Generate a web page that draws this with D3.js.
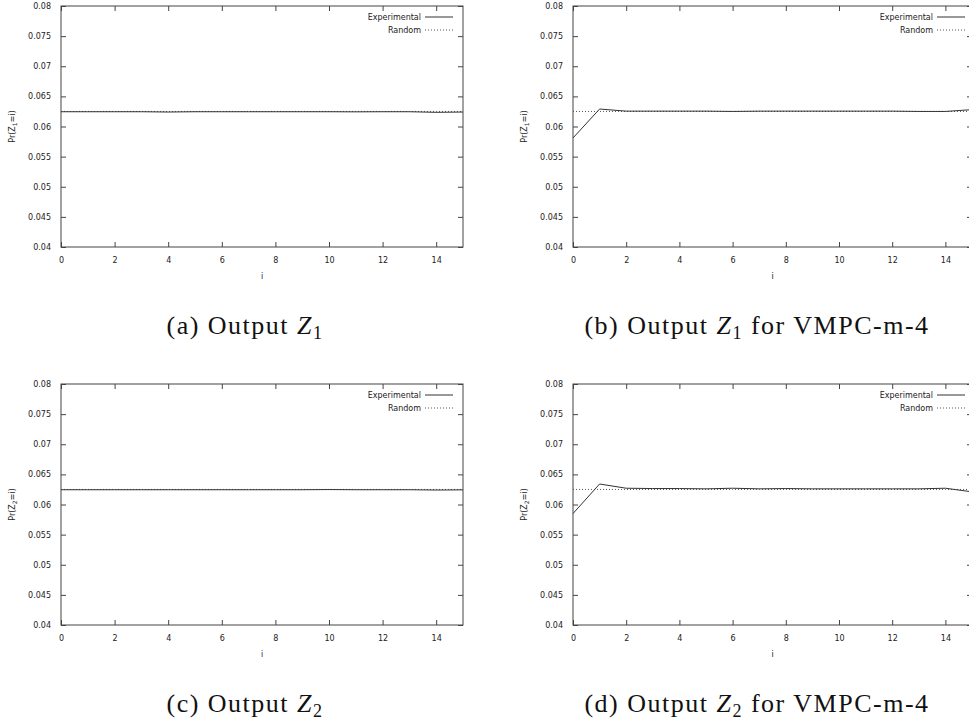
<!DOCTYPE html>
<html>
<head>
<meta charset="utf-8">
<script src="https://cdn.jsdelivr.net/npm/d3@7"></script>
<style>
  body { margin: 0; background: #fff; }
  svg { display: block; }
  .tick text { font-family: "DejaVu Sans", sans-serif; font-size: 8px; fill: #222; }
  .lab { font-family: "DejaVu Sans", sans-serif; font-size: 8px; fill: #222; }
  .cap { font-family: "Liberation Serif", serif; font-size: 26px; fill: #111; letter-spacing: 1.5px; }
</style>
</head>
<body>
<svg id="chart" width="969" height="723"></svg>
<script>
// index on the x axis
const iValues = [0, 1, 2, 3, 4, 5, 6, 7, 8, 9, 10, 11, 12, 13, 14, 15];
// uniform probability 1/16
const randomValue = 0.0625;

const expZ1 = [0.06245, 0.06245, 0.06245, 0.06245, 0.0624, 0.06245, 0.06245, 0.06245,
               0.06245, 0.06245, 0.06245, 0.06243, 0.06245, 0.06245, 0.06235, 0.0624];
const expZ1m4 = [0.0581, 0.0629, 0.06255, 0.06255, 0.06255, 0.06255, 0.0625, 0.06255,
                 0.06255, 0.06255, 0.06255, 0.06255, 0.06255, 0.0625, 0.0625, 0.0628];
const expZ2 = [0.06245, 0.06245, 0.06245, 0.06245, 0.06245, 0.06245, 0.06245, 0.06245,
               0.06245, 0.06245, 0.06248, 0.06245, 0.06245, 0.06245, 0.0624, 0.06243];
const expZ2m4 = [0.0585, 0.0634, 0.0627, 0.06265, 0.06265, 0.0626, 0.0627, 0.0626,
                 0.06265, 0.0626, 0.0626, 0.0626, 0.0626, 0.0626, 0.0627, 0.0621];

const yTicks = [0.04, 0.045, 0.05, 0.055, 0.06, 0.065, 0.07, 0.075, 0.08];
const xTicks = [0, 2, 4, 6, 8, 10, 12, 14];
const legendLabels = ["Experimental", "Random"];

const panels = [
  { data: expZ1,   sub: "1", letter: "(a)", extra: "",               x0: 61,  x1: 463, y0: 6,   y1: 247, cx: 245 },
  { data: expZ1m4, sub: "1", letter: "(b)", extra: " for VMPC-m-4", x0: 573, x1: 972, y0: 6,   y1: 247, cx: 757 },
  { data: expZ2,   sub: "2", letter: "(c)", extra: "",               x0: 61,  x1: 463, y0: 384, y1: 625, cx: 245 },
  { data: expZ2m4, sub: "2", letter: "(d)", extra: " for VMPC-m-4", x0: 573, x1: 972, y0: 384, y1: 625, cx: 757 }
];

const svg = d3.select("#chart");
const axisColor = "#444";

panels.forEach(p => {
  const x = d3.scaleLinear().domain([0, 15]).range([p.x0, p.x1]);
  const y = d3.scaleLinear().domain([0.04, 0.08]).range([p.y1, p.y0]);
  const g = svg.append("g");

  // frame
  g.append("rect")
    .attr("x", p.x0).attr("y", p.y0)
    .attr("width", p.x1 - p.x0).attr("height", p.y1 - p.y0)
    .attr("fill", "none").attr("stroke", axisColor).attr("stroke-width", 1);

  // axes with inward ticks
  const bottom = g.append("g").attr("transform", `translate(0,${p.y1})`)
    .call(d3.axisBottom(x).tickValues(xTicks).tickSize(-5).tickPadding(10).tickFormat(d3.format("d")));
  const top = g.append("g").attr("transform", `translate(0,${p.y0})`)
    .call(d3.axisTop(x).tickValues(xTicks).tickSize(-5).tickFormat(""));
  const left = g.append("g").attr("transform", `translate(${p.x0},0)`)
    .call(d3.axisLeft(y).tickValues(yTicks).tickSize(-5).tickPadding(10).tickFormat(d => d3.format("")(+d.toFixed(3))));
  const right = g.append("g").attr("transform", `translate(${p.x1},0)`)
    .call(d3.axisRight(y).tickValues(yTicks).tickSize(-5).tickFormat(""));
  [bottom, top, left, right].forEach(a => {
    a.select(".domain").remove();
    a.selectAll(".tick line").attr("stroke", axisColor);
  });

  // random (dotted) line
  g.append("path")
    .datum(iValues)
    .attr("fill", "none")
    .attr("stroke", "#555")
    .attr("stroke-width", 1)
    .attr("stroke-dasharray", "1,2")
    .attr("d", d3.line().x(d => x(d)).y(() => y(randomValue)));

  // experimental line
  g.append("path")
    .datum(iValues)
    .attr("fill", "none")
    .attr("stroke", "#333")
    .attr("stroke-width", 1)
    .attr("d", d3.line().x(d => x(d)).y((d, k) => y(p.data[k])));

  // legend
  const lx = p.x0 + 364;
  legendLabels.forEach((lbl, k) => {
    const ly = p.y0 + 11 + k * 13;
    g.append("text").attr("class", "lab")
      .attr("x", lx - 4).attr("y", ly + 3)
      .attr("text-anchor", "end").text(lbl);
    g.append("line")
      .attr("x1", lx).attr("x2", lx + 28)
      .attr("y1", ly).attr("y2", ly)
      .attr("stroke", k === 0 ? "#333" : "#555")
      .attr("stroke-dasharray", k === 0 ? null : "1,2");
  });

  // axis labels
  g.append("text").attr("class", "lab")
    .attr("x", (p.x0 + p.x1) / 2).attr("y", p.y1 + 32)
    .attr("text-anchor", "middle").text("i");

  const yl = g.append("text").attr("class", "lab")
    .attr("transform", `translate(${p.x0 - 46},${(p.y0 + p.y1) / 2}) rotate(-90)`)
    .attr("text-anchor", "middle");
  yl.append("tspan").text("Pr(Z");
  yl.append("tspan").attr("font-size", "6px").attr("dy", 2).text(p.sub);
  yl.append("tspan").attr("dy", -2).text("=i)");

  // caption
  const cap = svg.append("text").attr("class", "cap")
    .attr("x", p.cx).attr("y", p.y1 + 87)
    .attr("text-anchor", "middle");
  cap.append("tspan").text(p.letter + " Output ");
  cap.append("tspan").attr("font-style", "italic").text("Z");
  cap.append("tspan").attr("font-size", "18px").attr("dy", 5).text(p.sub);
  cap.append("tspan").attr("dy", -5).text(p.extra);
});
</script>
</body>
</html>
